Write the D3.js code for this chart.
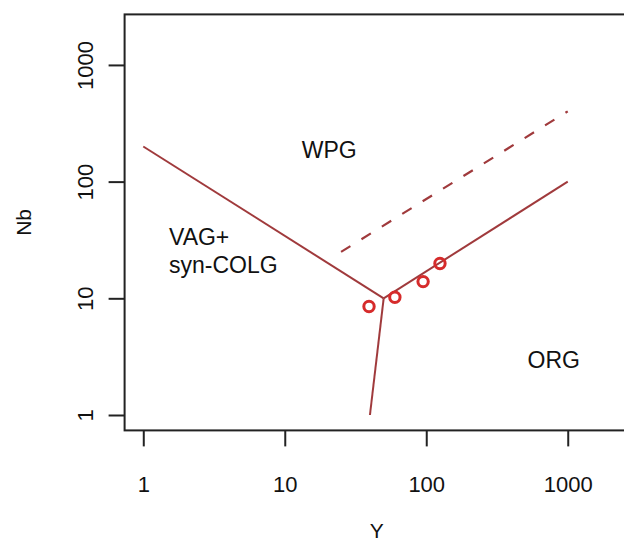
<!DOCTYPE html>
<html>
<head>
<meta charset="utf-8">
<script src="https://cdn.jsdelivr.net/npm/d3@7"></script>
<style>
  html, body { margin: 0; padding: 0; background: #fff; }
  svg { display: block; font-family: "Liberation Sans", Arial, sans-serif; }
</style>
</head>
<body>
<svg id="chart" width="624" height="542"></svg>
<script>
// ---- data ----
const xTicks = [1, 10, 100, 1000];
const yTicks = [1, 10, 100, 1000];
const sampleY  = [39.4, 60, 95, 125];
const sampleNb = [8.5, 10.2, 13.9, 19.9];
// field boundaries (Y, Nb)
const boundaryVAG = [[1, 200], [50, 10]];
const boundaryORG = [[50, 10], [1000, 100]];
const boundaryVAGORG = [[50, 10], [40, 1]];
const boundaryDashed = [[25, 25], [1000, 400]];
const fieldLabels = [
  { lines: ["WPG"], x: 13.2, y: 187 },
  { lines: ["VAG+", "syn-COLG"], x: 1.52, y: 33.5 },
  { lines: ["ORG"], x: 520, y: 2.96 }
];

// ---- layout ----
const svg = d3.select("#chart");
const plotLeft = 124.6, plotRight = 629, plotTop = 14.4, plotBottom = 430.4;
const pad = 0.132;
const x = d3.scaleLog().domain([Math.pow(10, -pad), 2000 * Math.pow(10, pad)]).range([plotLeft, plotRight]);
const y = d3.scaleLog().domain([Math.pow(10, -pad), 2000 * Math.pow(10, pad)]).range([plotBottom, plotTop]);

const lineCol = "#a03a3c";
const ptCol = "#d62b2b";
const axisCol = "#222";

// frame
svg.append("rect")
  .attr("x", plotLeft).attr("y", plotTop)
  .attr("width", plotRight - plotLeft).attr("height", plotBottom - plotTop)
  .attr("fill", "none").attr("stroke", axisCol).attr("stroke-width", 2);

// x axis
const xAxis = d3.axisBottom(x).tickValues(xTicks).tickSize(16).tickFormat(d3.format("d"));
const gx = svg.append("g").attr("transform", `translate(0,${plotBottom})`).call(xAxis);
gx.select(".domain").remove();
gx.selectAll(".tick line").attr("stroke", axisCol).attr("stroke-width", 2);
gx.selectAll(".tick text")
  .attr("y", 54).attr("dy", "0.35em")
  .attr("font-size", 22).attr("fill", "#111")
  .attr("font-family", "Liberation Sans, Arial, sans-serif");

// y axis
const yAxis = d3.axisLeft(y).tickValues(yTicks).tickSize(16).tickFormat(d3.format("d"));
const gy = svg.append("g").attr("transform", `translate(${plotLeft},0)`).call(yAxis);
gy.select(".domain").remove();
gy.selectAll(".tick line").attr("stroke", axisCol).attr("stroke-width", 2);
gy.selectAll(".tick text")
  .attr("x", 0).attr("dy", 0)
  .attr("text-anchor", "middle")
  .attr("dominant-baseline", "central")
  .attr("transform", "translate(-39,0) rotate(-90)")
  .attr("font-size", 22).attr("fill", "#111")
  .attr("font-family", "Liberation Sans, Arial, sans-serif");

// axis titles
svg.append("text")
  .attr("x", (plotLeft + plotRight) / 2).attr("y", 531).attr("dy", "0.35em")
  .attr("text-anchor", "middle").attr("font-size", 21).attr("fill", "#111")
  .text("Y");
svg.append("text")
  .attr("transform", `translate(24,${(plotTop + plotBottom) / 2}) rotate(-90)`)
  .attr("dy", "0.35em")
  .attr("text-anchor", "middle").attr("font-size", 21).attr("fill", "#111")
  .text("Nb");

// boundaries
const line = d3.line().x(d => x(d[0])).y(d => y(d[1]));
[boundaryVAG, boundaryORG, boundaryVAGORG].forEach(b => {
  svg.append("path").attr("d", line(b))
    .attr("fill", "none").attr("stroke", lineCol).attr("stroke-width", 2);
});
svg.append("path").attr("d", line(boundaryDashed))
  .attr("fill", "none").attr("stroke", lineCol).attr("stroke-width", 2.2)
  .attr("stroke-dasharray", "11,13");

// field labels
fieldLabels.forEach(f => {
  const t = svg.append("text")
    .attr("x", x(f.x)).attr("y", y(f.y))
    .attr("font-size", 23).attr("fill", "#111");
  f.lines.forEach((s, i) => {
    t.append("tspan").attr("x", x(f.x)).attr("dy", i === 0 ? "0.35em" : "1.2em").text(s);
  });
});

// samples
svg.selectAll("circle.pt")
  .data(sampleY.map((v, i) => [v, sampleNb[i]]))
  .join("circle")
  .attr("class", "pt")
  .attr("cx", d => x(d[0])).attr("cy", d => y(d[1]))
  .attr("r", 5.2)
  .attr("fill", "none").attr("stroke", ptCol).attr("stroke-width", 3);
</script>
</body>
</html>
